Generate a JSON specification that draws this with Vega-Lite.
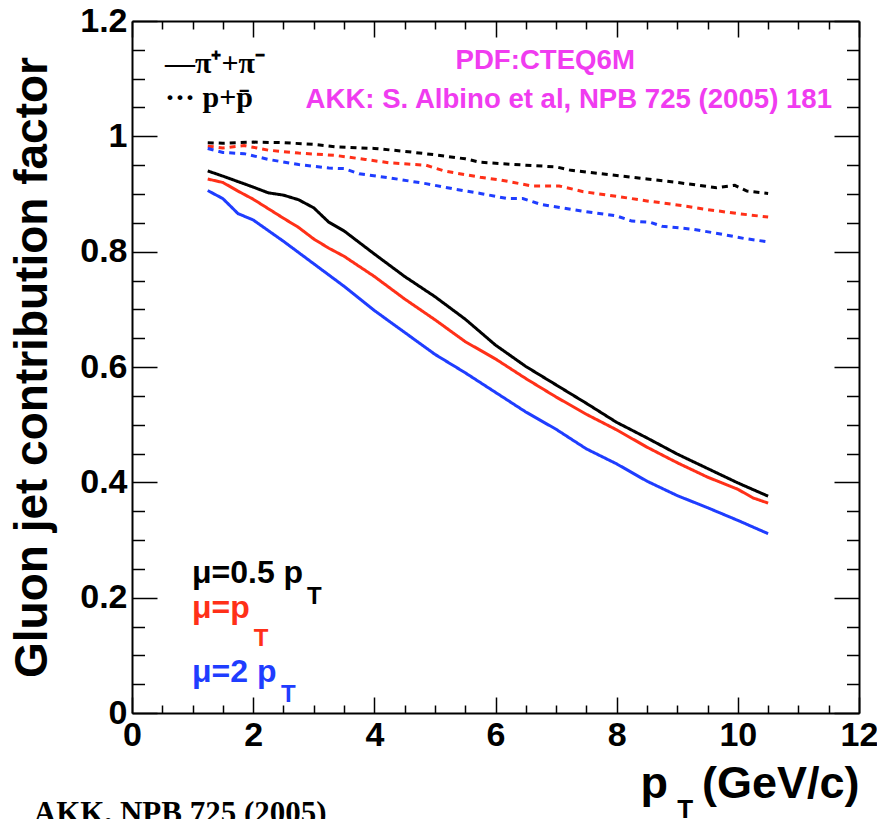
{
  "$schema": "https://vega.github.io/schema/vega-lite/v6.json",
  "autosize": {"type": "none"},
  "padding": {"left": 132, "top": 21, "right": 18, "bottom": 106},
  "width": 727,
  "height": 692,
  "background": "white",
  "config": {
    "view": {"stroke": null},
    "axis": {
      "grid": false,
      "labelFont": "Liberation Sans",
      "labelFontWeight": "bold",
      "labelColor": "black",
      "labelFontSize": 34,
      "titleFont": "Liberation Sans",
      "titleFontWeight": "bold",
      "titleColor": "black",
      "domainColor": "black",
      "tickColor": "black",
      "labelFlush": false,
      "labelOverlap": false
    }
  },
  "datasets": {
    "curves": [
      {"pt": 1.25, "factor": 0.940, "hadron": "pi", "mu": "0.5"},
      {"pt": 1.5, "factor": 0.931, "hadron": "pi", "mu": "0.5"},
      {"pt": 2.0, "factor": 0.912, "hadron": "pi", "mu": "0.5"},
      {"pt": 2.25, "factor": 0.902, "hadron": "pi", "mu": "0.5"},
      {"pt": 2.5, "factor": 0.898, "hadron": "pi", "mu": "0.5"},
      {"pt": 2.75, "factor": 0.890, "hadron": "pi", "mu": "0.5"},
      {"pt": 3.0, "factor": 0.876, "hadron": "pi", "mu": "0.5"},
      {"pt": 3.25, "factor": 0.851, "hadron": "pi", "mu": "0.5"},
      {"pt": 3.5, "factor": 0.836, "hadron": "pi", "mu": "0.5"},
      {"pt": 4.0, "factor": 0.796, "hadron": "pi", "mu": "0.5"},
      {"pt": 4.5, "factor": 0.757, "hadron": "pi", "mu": "0.5"},
      {"pt": 5.0, "factor": 0.722, "hadron": "pi", "mu": "0.5"},
      {"pt": 5.5, "factor": 0.683, "hadron": "pi", "mu": "0.5"},
      {"pt": 6.0, "factor": 0.638, "hadron": "pi", "mu": "0.5"},
      {"pt": 6.5, "factor": 0.601, "hadron": "pi", "mu": "0.5"},
      {"pt": 7.0, "factor": 0.569, "hadron": "pi", "mu": "0.5"},
      {"pt": 7.5, "factor": 0.537, "hadron": "pi", "mu": "0.5"},
      {"pt": 8.0, "factor": 0.504, "hadron": "pi", "mu": "0.5"},
      {"pt": 8.5, "factor": 0.477, "hadron": "pi", "mu": "0.5"},
      {"pt": 9.0, "factor": 0.449, "hadron": "pi", "mu": "0.5"},
      {"pt": 9.5, "factor": 0.424, "hadron": "pi", "mu": "0.5"},
      {"pt": 10.0, "factor": 0.399, "hadron": "pi", "mu": "0.5"},
      {"pt": 10.5, "factor": 0.376, "hadron": "pi", "mu": "0.5"},

      {"pt": 1.25, "factor": 0.926, "hadron": "pi", "mu": "1"},
      {"pt": 1.5, "factor": 0.920, "hadron": "pi", "mu": "1"},
      {"pt": 1.75, "factor": 0.905, "hadron": "pi", "mu": "1"},
      {"pt": 2.0, "factor": 0.891, "hadron": "pi", "mu": "1"},
      {"pt": 2.5, "factor": 0.858, "hadron": "pi", "mu": "1"},
      {"pt": 2.75, "factor": 0.842, "hadron": "pi", "mu": "1"},
      {"pt": 3.0, "factor": 0.822, "hadron": "pi", "mu": "1"},
      {"pt": 3.25, "factor": 0.806, "hadron": "pi", "mu": "1"},
      {"pt": 3.5, "factor": 0.792, "hadron": "pi", "mu": "1"},
      {"pt": 4.0, "factor": 0.757, "hadron": "pi", "mu": "1"},
      {"pt": 4.5, "factor": 0.718, "hadron": "pi", "mu": "1"},
      {"pt": 5.0, "factor": 0.682, "hadron": "pi", "mu": "1"},
      {"pt": 5.5, "factor": 0.644, "hadron": "pi", "mu": "1"},
      {"pt": 6.0, "factor": 0.614, "hadron": "pi", "mu": "1"},
      {"pt": 6.5, "factor": 0.580, "hadron": "pi", "mu": "1"},
      {"pt": 7.0, "factor": 0.548, "hadron": "pi", "mu": "1"},
      {"pt": 7.5, "factor": 0.518, "hadron": "pi", "mu": "1"},
      {"pt": 8.0, "factor": 0.491, "hadron": "pi", "mu": "1"},
      {"pt": 8.5, "factor": 0.461, "hadron": "pi", "mu": "1"},
      {"pt": 9.0, "factor": 0.434, "hadron": "pi", "mu": "1"},
      {"pt": 9.5, "factor": 0.409, "hadron": "pi", "mu": "1"},
      {"pt": 10.0, "factor": 0.388, "hadron": "pi", "mu": "1"},
      {"pt": 10.25, "factor": 0.373, "hadron": "pi", "mu": "1"},
      {"pt": 10.5, "factor": 0.364, "hadron": "pi", "mu": "1"},

      {"pt": 1.25, "factor": 0.906, "hadron": "pi", "mu": "2"},
      {"pt": 1.5, "factor": 0.892, "hadron": "pi", "mu": "2"},
      {"pt": 1.75, "factor": 0.866, "hadron": "pi", "mu": "2"},
      {"pt": 2.0, "factor": 0.855, "hadron": "pi", "mu": "2"},
      {"pt": 2.5, "factor": 0.818, "hadron": "pi", "mu": "2"},
      {"pt": 3.0, "factor": 0.779, "hadron": "pi", "mu": "2"},
      {"pt": 3.5, "factor": 0.740, "hadron": "pi", "mu": "2"},
      {"pt": 4.0, "factor": 0.698, "hadron": "pi", "mu": "2"},
      {"pt": 4.5, "factor": 0.660, "hadron": "pi", "mu": "2"},
      {"pt": 5.0, "factor": 0.622, "hadron": "pi", "mu": "2"},
      {"pt": 5.5, "factor": 0.590, "hadron": "pi", "mu": "2"},
      {"pt": 6.0, "factor": 0.556, "hadron": "pi", "mu": "2"},
      {"pt": 6.5, "factor": 0.522, "hadron": "pi", "mu": "2"},
      {"pt": 7.0, "factor": 0.492, "hadron": "pi", "mu": "2"},
      {"pt": 7.5, "factor": 0.458, "hadron": "pi", "mu": "2"},
      {"pt": 8.0, "factor": 0.432, "hadron": "pi", "mu": "2"},
      {"pt": 8.5, "factor": 0.402, "hadron": "pi", "mu": "2"},
      {"pt": 9.0, "factor": 0.377, "hadron": "pi", "mu": "2"},
      {"pt": 9.5, "factor": 0.356, "hadron": "pi", "mu": "2"},
      {"pt": 10.0, "factor": 0.334, "hadron": "pi", "mu": "2"},
      {"pt": 10.5, "factor": 0.311, "hadron": "pi", "mu": "2"},

      {"pt": 1.25, "factor": 0.989, "hadron": "p", "mu": "0.5"},
      {"pt": 1.5, "factor": 0.988, "hadron": "p", "mu": "0.5"},
      {"pt": 2.0, "factor": 0.990, "hadron": "p", "mu": "0.5"},
      {"pt": 2.5, "factor": 0.989, "hadron": "p", "mu": "0.5"},
      {"pt": 3.0, "factor": 0.986, "hadron": "p", "mu": "0.5"},
      {"pt": 3.35, "factor": 0.982, "hadron": "p", "mu": "0.5"},
      {"pt": 4.0, "factor": 0.979, "hadron": "p", "mu": "0.5"},
      {"pt": 4.5, "factor": 0.974, "hadron": "p", "mu": "0.5"},
      {"pt": 5.0, "factor": 0.968, "hadron": "p", "mu": "0.5"},
      {"pt": 5.5, "factor": 0.961, "hadron": "p", "mu": "0.5"},
      {"pt": 5.75, "factor": 0.955, "hadron": "p", "mu": "0.5"},
      {"pt": 6.5, "factor": 0.950, "hadron": "p", "mu": "0.5"},
      {"pt": 7.0, "factor": 0.947, "hadron": "p", "mu": "0.5"},
      {"pt": 7.25, "factor": 0.941, "hadron": "p", "mu": "0.5"},
      {"pt": 8.0, "factor": 0.932, "hadron": "p", "mu": "0.5"},
      {"pt": 8.5, "factor": 0.926, "hadron": "p", "mu": "0.5"},
      {"pt": 9.0, "factor": 0.920, "hadron": "p", "mu": "0.5"},
      {"pt": 9.5, "factor": 0.913, "hadron": "p", "mu": "0.5"},
      {"pt": 9.65, "factor": 0.911, "hadron": "p", "mu": "0.5"},
      {"pt": 9.95, "factor": 0.915, "hadron": "p", "mu": "0.5"},
      {"pt": 10.15, "factor": 0.905, "hadron": "p", "mu": "0.5"},
      {"pt": 10.5, "factor": 0.901, "hadron": "p", "mu": "0.5"},

      {"pt": 1.25, "factor": 0.983, "hadron": "p", "mu": "1"},
      {"pt": 1.5, "factor": 0.980, "hadron": "p", "mu": "1"},
      {"pt": 1.85, "factor": 0.984, "hadron": "p", "mu": "1"},
      {"pt": 2.25, "factor": 0.976, "hadron": "p", "mu": "1"},
      {"pt": 2.75, "factor": 0.971, "hadron": "p", "mu": "1"},
      {"pt": 3.35, "factor": 0.967, "hadron": "p", "mu": "1"},
      {"pt": 3.85, "factor": 0.960, "hadron": "p", "mu": "1"},
      {"pt": 4.25, "factor": 0.954, "hadron": "p", "mu": "1"},
      {"pt": 4.85, "factor": 0.950, "hadron": "p", "mu": "1"},
      {"pt": 5.15, "factor": 0.940, "hadron": "p", "mu": "1"},
      {"pt": 5.75, "factor": 0.929, "hadron": "p", "mu": "1"},
      {"pt": 6.1, "factor": 0.924, "hadron": "p", "mu": "1"},
      {"pt": 6.6, "factor": 0.914, "hadron": "p", "mu": "1"},
      {"pt": 7.05, "factor": 0.914, "hadron": "p", "mu": "1"},
      {"pt": 7.45, "factor": 0.904, "hadron": "p", "mu": "1"},
      {"pt": 8.0, "factor": 0.896, "hadron": "p", "mu": "1"},
      {"pt": 8.5, "factor": 0.888, "hadron": "p", "mu": "1"},
      {"pt": 9.0, "factor": 0.881, "hadron": "p", "mu": "1"},
      {"pt": 9.5, "factor": 0.873, "hadron": "p", "mu": "1"},
      {"pt": 10.0, "factor": 0.866, "hadron": "p", "mu": "1"},
      {"pt": 10.5, "factor": 0.860, "hadron": "p", "mu": "1"},

      {"pt": 1.25, "factor": 0.979, "hadron": "p", "mu": "2"},
      {"pt": 1.5, "factor": 0.972, "hadron": "p", "mu": "2"},
      {"pt": 1.85, "factor": 0.970, "hadron": "p", "mu": "2"},
      {"pt": 2.25, "factor": 0.960, "hadron": "p", "mu": "2"},
      {"pt": 2.75, "factor": 0.951, "hadron": "p", "mu": "2"},
      {"pt": 3.25, "factor": 0.945, "hadron": "p", "mu": "2"},
      {"pt": 3.5, "factor": 0.944, "hadron": "p", "mu": "2"},
      {"pt": 3.75, "factor": 0.935, "hadron": "p", "mu": "2"},
      {"pt": 4.25, "factor": 0.928, "hadron": "p", "mu": "2"},
      {"pt": 4.85, "factor": 0.918, "hadron": "p", "mu": "2"},
      {"pt": 5.35, "factor": 0.908, "hadron": "p", "mu": "2"},
      {"pt": 5.75, "factor": 0.901, "hadron": "p", "mu": "2"},
      {"pt": 6.2, "factor": 0.892, "hadron": "p", "mu": "2"},
      {"pt": 6.45, "factor": 0.892, "hadron": "p", "mu": "2"},
      {"pt": 6.75, "factor": 0.882, "hadron": "p", "mu": "2"},
      {"pt": 7.45, "factor": 0.870, "hadron": "p", "mu": "2"},
      {"pt": 8.0, "factor": 0.862, "hadron": "p", "mu": "2"},
      {"pt": 8.25, "factor": 0.853, "hadron": "p", "mu": "2"},
      {"pt": 8.55, "factor": 0.851, "hadron": "p", "mu": "2"},
      {"pt": 8.75, "factor": 0.844, "hadron": "p", "mu": "2"},
      {"pt": 9.25, "factor": 0.839, "hadron": "p", "mu": "2"},
      {"pt": 9.75, "factor": 0.830, "hadron": "p", "mu": "2"},
      {"pt": 10.1, "factor": 0.823, "hadron": "p", "mu": "2"},
      {"pt": 10.5, "factor": 0.817, "hadron": "p", "mu": "2"}
    ],
    "frame": [
      {"pt": 0, "factor": 0},
      {"pt": 12, "factor": 1.2}
    ],
    "notes": [
      {"pt": 0.99, "factor": 0.225, "label": "μ=0.5 p", "kind": "mu", "mu": "0.5"},
      {"pt": 0.99, "factor": 0.165, "label": "μ=p", "kind": "mu", "mu": "1"},
      {"pt": 0.99, "factor": 0.054, "label": "μ=2 p", "kind": "mu", "mu": "2"},
      {"pt": 2.89, "factor": 0.189, "label": "T", "kind": "sub", "mu": "0.5"},
      {"pt": 2.01, "factor": 0.117, "label": "T", "kind": "sub", "mu": "1"},
      {"pt": 2.46, "factor": 0.019, "label": "T", "kind": "sub", "mu": "2"},
      {"pt": 6.82, "factor": 1.117, "label": "PDF:CTEQ6M", "kind": "magenta"},
      {"pt": 7.21, "factor": 1.050, "label": "AKK: S. Albino et al, NPB 725 (2005) 181", "kind": "magenta"},
      {"pt": 0.545, "factor": 1.110, "label": "—π⁺+π⁻", "kind": "legend"},
      {"pt": 0.545, "factor": 1.051, "label": "··· p+p̄", "kind": "legend"},
      {"pt": 9.0, "factor": -0.182, "label": "T", "kind": "xsub"},
      {"pt": -1.62, "factor": -0.19, "label": "AKK, NPB 725 (2005)", "kind": "cite"}
    ]
  },
  "resolve": {"axis": {"x": "independent", "y": "independent"}},
  "layer": [
    {
      "data": {"name": "curves"},
      "mark": {"type": "line", "strokeWidth": 3},
      "encoding": {
        "x": {"field": "pt", "type": "quantitative",
          "scale": {"domain": [0, 12], "nice": false, "zero": false},
          "axis": {"orient": "bottom", "values": [0, 2, 4, 6, 8, 10, 12], "format": "d",
            "tickSize": -16, "tickWidth": 1.5, "labelPadding": 21, "domainWidth": 2,
            "title": "p\u2009\u00a0\u00a0(GeV/c)", "titleFontSize": 45, "titleX": 727, "titleY": 84,
            "titleAlign": "right", "titleBaseline": "alphabetic", "titleAnchor": "end"}},
        "y": {"field": "factor", "type": "quantitative",
          "scale": {"domain": [0, 1.2], "nice": false, "zero": false},
          "axis": {"orient": "left", "values": [0, 0.2, 0.4, 0.6, 0.8, 1, 1.2], "format": "~g",
            "tickSize": -25, "tickWidth": 1.5, "labelPadding": 30, "domainWidth": 2,
            "title": "Gluon jet contribution factor", "titleFontSize": 46, "titleX": -86, "titleY": 346,
            "titleAngle": 270, "titleAlign": "center", "titleBaseline": "alphabetic"}},
        "color": {"field": "mu", "type": "nominal",
          "scale": {"domain": ["0.5", "1", "2"], "range": ["#000000", "#ff3018", "#1f3dff"]},
          "legend": null},
        "strokeDash": {"field": "hadron", "type": "nominal",
          "scale": {"domain": ["pi", "p"], "range": [[1, 0], [6, 5]]},
          "legend": null}
      }
    },
    {
      "data": {"name": "frame"},
      "mark": {"type": "point", "opacity": 0},
      "encoding": {
        "x": {"field": "pt", "type": "quantitative",
          "scale": {"domain": [0, 12], "nice": false, "zero": false},
          "axis": {"orient": "bottom", "values": [0.5, 1, 1.5, 2.5, 3, 3.5, 4.5, 5, 5.5, 6.5, 7, 7.5, 8.5, 9, 9.5, 10.5, 11, 11.5],
            "tickSize": -8, "tickWidth": 1.5, "labels": false, "domain": false, "title": null}},
        "y": {"field": "factor", "type": "quantitative",
          "scale": {"domain": [0, 1.2], "nice": false, "zero": false},
          "axis": {"orient": "left", "values": [0.05, 0.1, 0.15, 0.25, 0.3, 0.35, 0.45, 0.5, 0.55, 0.65, 0.7, 0.75, 0.85, 0.9, 0.95, 1.05, 1.1, 1.15],
            "tickSize": -12.5, "tickWidth": 1.5, "labels": false, "domain": false, "title": null}}
      }
    },
    {
      "data": {"name": "frame"},
      "mark": {"type": "point", "opacity": 0},
      "encoding": {
        "x": {"field": "pt", "type": "quantitative",
          "scale": {"domain": [0, 12], "nice": false, "zero": false},
          "axis": {"orient": "top", "values": [0, 2, 4, 6, 8, 10, 12],
            "tickSize": -16, "tickWidth": 1.5, "labels": false, "domainWidth": 2, "title": null}},
        "y": {"field": "factor", "type": "quantitative",
          "scale": {"domain": [0, 1.2], "nice": false, "zero": false},
          "axis": {"orient": "right", "values": [0, 0.2, 0.4, 0.6, 0.8, 1, 1.2],
            "tickSize": -25, "tickWidth": 1.5, "labels": false, "domainWidth": 2, "title": null}}
      }
    },
    {
      "data": {"name": "frame"},
      "mark": {"type": "point", "opacity": 0},
      "encoding": {
        "x": {"field": "pt", "type": "quantitative",
          "scale": {"domain": [0, 12], "nice": false, "zero": false},
          "axis": {"orient": "top", "values": [0.5, 1, 1.5, 2.5, 3, 3.5, 4.5, 5, 5.5, 6.5, 7, 7.5, 8.5, 9, 9.5, 10.5, 11, 11.5],
            "tickSize": -8, "tickWidth": 1.5, "labels": false, "domain": false, "title": null}},
        "y": {"field": "factor", "type": "quantitative",
          "scale": {"domain": [0, 1.2], "nice": false, "zero": false},
          "axis": {"orient": "right", "values": [0.05, 0.1, 0.15, 0.25, 0.3, 0.35, 0.45, 0.5, 0.55, 0.65, 0.7, 0.75, 0.85, 0.9, 0.95, 1.05, 1.1, 1.15],
            "tickSize": -12.5, "tickWidth": 1.5, "labels": false, "domain": false, "title": null}}
      }
    },
    {
      "data": {"name": "notes"},
      "transform": [{"filter": "datum.kind === 'mu'"}],
      "mark": {"type": "text", "align": "left", "baseline": "alphabetic", "font": "Liberation Sans", "fontWeight": "bold", "fontSize": 32},
      "encoding": {
        "x": {"field": "pt", "type": "quantitative", "scale": {"domain": [0, 12], "nice": false, "zero": false}, "axis": null},
        "y": {"field": "factor", "type": "quantitative", "scale": {"domain": [0, 1.2], "nice": false, "zero": false}, "axis": null},
        "text": {"field": "label"},
        "color": {"field": "mu", "type": "nominal", "legend": null}
      }
    },
    {
      "data": {"name": "notes"},
      "transform": [{"filter": "datum.kind === 'sub'"}],
      "mark": {"type": "text", "align": "left", "baseline": "alphabetic", "font": "Liberation Sans", "fontWeight": "bold", "fontSize": 24},
      "encoding": {
        "x": {"field": "pt", "type": "quantitative", "scale": {"domain": [0, 12], "nice": false, "zero": false}, "axis": null},
        "y": {"field": "factor", "type": "quantitative", "scale": {"domain": [0, 1.2], "nice": false, "zero": false}, "axis": null},
        "text": {"field": "label"},
        "color": {"field": "mu", "type": "nominal", "legend": null}
      }
    },
    {
      "data": {"name": "notes"},
      "transform": [{"filter": "datum.kind === 'magenta'"}],
      "mark": {"type": "text", "align": "center", "baseline": "alphabetic", "font": "Liberation Sans", "fontWeight": "bold", "fontSize": 27.6, "color": "#f03cf0"},
      "encoding": {
        "x": {"field": "pt", "type": "quantitative", "scale": {"domain": [0, 12], "nice": false, "zero": false}, "axis": null},
        "y": {"field": "factor", "type": "quantitative", "scale": {"domain": [0, 1.2], "nice": false, "zero": false}, "axis": null},
        "text": {"field": "label"}
      }
    },
    {
      "data": {"name": "notes"},
      "transform": [{"filter": "datum.kind === 'legend'"}],
      "mark": {"type": "text", "align": "left", "baseline": "alphabetic", "font": "Liberation Serif", "fontWeight": "bold", "fontSize": 30, "color": "black"},
      "encoding": {
        "x": {"field": "pt", "type": "quantitative", "scale": {"domain": [0, 12], "nice": false, "zero": false}, "axis": null},
        "y": {"field": "factor", "type": "quantitative", "scale": {"domain": [0, 1.2], "nice": false, "zero": false}, "axis": null},
        "text": {"field": "label"}
      }
    },
    {
      "data": {"name": "notes"},
      "transform": [{"filter": "datum.kind === 'xsub'"}],
      "mark": {"type": "text", "align": "left", "baseline": "alphabetic", "font": "Liberation Sans", "fontWeight": "bold", "fontSize": 26, "color": "black"},
      "encoding": {
        "x": {"field": "pt", "type": "quantitative", "scale": {"domain": [0, 12], "nice": false, "zero": false}, "axis": null},
        "y": {"field": "factor", "type": "quantitative", "scale": {"domain": [0, 1.2], "nice": false, "zero": false}, "axis": null},
        "text": {"field": "label"}
      }
    },
    {
      "data": {"name": "notes"},
      "transform": [{"filter": "datum.kind === 'cite'"}],
      "mark": {"type": "text", "align": "left", "baseline": "alphabetic", "font": "Liberation Serif", "fontWeight": "bold", "fontSize": 31, "color": "black"},
      "encoding": {
        "x": {"field": "pt", "type": "quantitative", "scale": {"domain": [0, 12], "nice": false, "zero": false}, "axis": null},
        "y": {"field": "factor", "type": "quantitative", "scale": {"domain": [0, 1.2], "nice": false, "zero": false}, "axis": null},
        "text": {"field": "label"}
      }
    }
  ]
}
